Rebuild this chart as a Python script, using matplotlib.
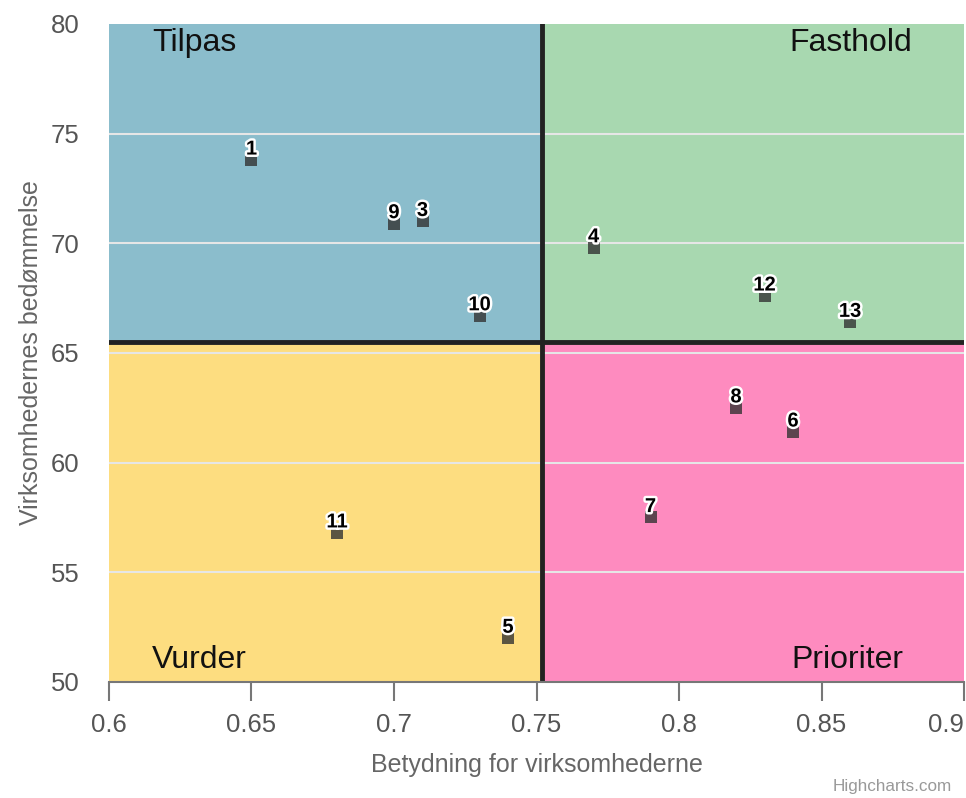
import matplotlib.pyplot as plt
import matplotlib.patheffects as pe

plt.rcParams['font.family'] = ['Liberation Sans', 'DejaVu Sans']

# data
labels = ['1', '9', '3', '10', '4', '12', '13', '8', '6', '7', '11', '5']
x_vals = [0.65, 0.70, 0.71, 0.73, 0.77, 0.83, 0.86, 0.82, 0.84, 0.79, 0.68, 0.74]
y_vals = [73.8, 70.9, 71.0, 66.7, 69.8, 67.6, 66.4, 62.5, 61.4, 57.5, 56.8, 52.0]

x_split = 0.752
y_split = 65.5
x_min, x_max = 0.6, 0.9
y_min, y_max = 50, 80
x_ticks = [0.6, 0.65, 0.7, 0.75, 0.8, 0.85, 0.9]
x_ticklabels = ['0.6', '0.65', '0.7', '0.75', '0.8', '0.85', '0.9']
y_ticks = [50, 55, 60, 65, 70, 75, 80]

fig = plt.figure(figsize=(9.66, 7.98), dpi=100)
ax = fig.add_axes([0.1128, 0.1454, 0.8852, 0.8246])

# quadrant backgrounds
ax.fill_between([x_min, x_split], y_split, y_max, color='#8bbdcc', lw=0, zorder=0)
ax.fill_between([x_split, x_max], y_split, y_max, color='#a8d8b0', lw=0, zorder=0)
ax.fill_between([x_min, x_split], y_min, y_split, color='#fddd80', lw=0, zorder=0)
ax.fill_between([x_split, x_max], y_min, y_split, color='#fe8bbf', lw=0, zorder=0)

for yt in y_ticks[1:-1]:
    ax.axhline(yt, color='#e6e6e6', lw=1.5, zorder=1)

ax.axvline(x_split, color='#222222', lw=3.5, zorder=2)
ax.axhline(y_split, color='#222222', lw=3.5, zorder=2)

ax.scatter(x_vals, y_vals, marker='s', s=75, color='#333333', alpha=0.8,
           linewidths=0, zorder=3)
for lab, xv, yv in zip(labels, x_vals, y_vals):
    ax.annotate(lab, (xv, yv), xytext=(0, 1), textcoords='offset points',
                ha='center', va='bottom', fontsize=14.5, fontweight='bold',
                color='black', zorder=4,
                path_effects=[pe.withStroke(linewidth=3.5, foreground='white')])

qfont = dict(fontsize=23, color='#111111', transform=ax.transAxes, va='center')
ax.text(0.0503, 0.971, 'Tilpas', ha='left', **qfont)
ax.text(0.939, 0.971, 'Fasthold', ha='right', **qfont)
ax.text(0.0503, 0.0334, 'Vurder', ha='left', **qfont)
ax.text(0.929, 0.0334, 'Prioriter', ha='right', **qfont)

ax.set_xlim(x_min, x_max)
ax.set_ylim(y_min, y_max)
ax.set_xticks(x_ticks)
ax.set_xticklabels(x_ticklabels)
ax.set_yticks(y_ticks)
# keep the last label inside the figure, as highcharts does
ax.get_xticklabels()[-1].set_horizontalalignment('right')

for side in ['top', 'right', 'left']:
    ax.spines[side].set_visible(False)
ax.spines['bottom'].set_color('#777777')
ax.spines['bottom'].set_linewidth(1.5)
ax.tick_params(axis='x', length=14, width=1.5, color='#777777',
               labelsize=18.5, labelcolor='#555555', pad=8)
ax.tick_params(axis='y', length=0, labelsize=18.5, labelcolor='#555555', pad=21)

ax.set_xlabel('Betydning for virksomhederne', fontsize=18, color='#666666', labelpad=12)
ax.set_ylabel('Virksomhedernes bedømmelse', fontsize=18, color='#666666', labelpad=6)

fig.text(0.985, 0.005, 'Highcharts.com', ha='right', va='bottom',
         fontsize=12.3, color='#999999')

fig.savefig('out.png', dpi=100)
